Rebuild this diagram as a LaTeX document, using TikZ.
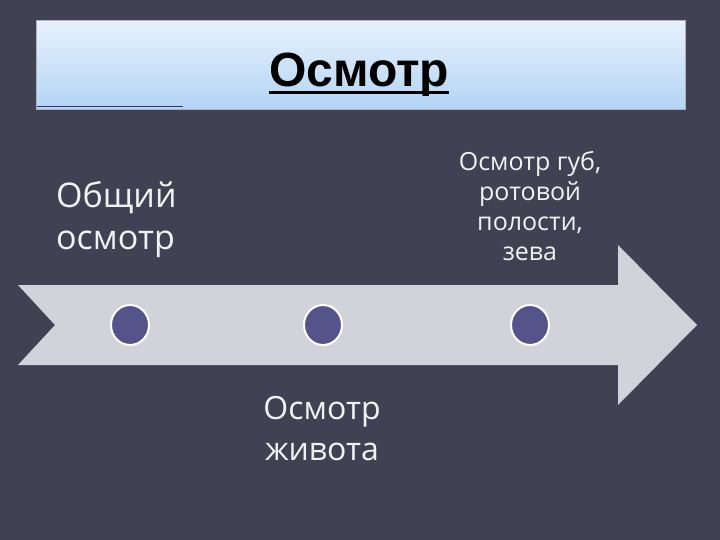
\documentclass[tikz,border=0pt]{standalone}
\usepackage{fontspec}
\setmainfont{Open Sans}
\newfontfamily\titlefont{Liberation Sans}
\usetikzlibrary{positioning,shapes.geometric}
\definecolor{bgdark}{RGB}{64,66,84}
\definecolor{boxtop}{RGB}{232,241,252}
\definecolor{boxbottom}{RGB}{178,212,245}
\definecolor{arrowgray}{RGB}{210,211,218}
\definecolor{dotblue}{RGB}{84,84,138}
\definecolor{txt}{RGB}{242,242,242}
\begin{document}
\begin{tikzpicture}[x=1pt,y=-1pt,
    step label/.style={text=txt, inner sep=0pt, font=\fontsize{32}{41}\selectfont},
    dot/.style={ellipse, minimum width=38pt, minimum height=40pt, fill=dotblue, draw=white, line width=2pt}]
    \useasboundingbox (0,0) rectangle (720,540);
    % background
    \fill[bgdark] (0,0) rectangle (720,540);
    % title box
    \shade[top color=boxtop, bottom color=boxbottom] (36,21) rectangle (685,110);
    \draw[gray!60, line width=1pt] (36,21) rectangle (685,110);
    \draw[blue!35!black!80, line width=1pt] (37,107) -- (183,107);
    \node[inner sep=0pt, anchor=base] (title) at (359,87) {\titlefont\bfseries\fontsize{48}{50}\selectfont Осмотр};
    \draw[line width=3pt] ([yshift=-6pt]title.base west) -- ([yshift=-6pt]title.base east);
    % timeline arrow
    \fill[arrowgray] (18,285) -- (618,285) -- (618,245) -- (697,325) -- (618,405)
        -- (618,365) -- (18,365) -- (55,325) -- cycle;
    % dots on the arrow
    \foreach \x/\i in {130/1,323/2,530/3}{%
        \node[dot] (d\i) at (\x,325) {};
    }
    % labels
    \node[step label, align=left, anchor=west, font=\fontsize{34}{42}\selectfont] (general) at (56,220) {Общий\\осмотр};
    \node[step label, align=center] (belly) at (322,429) {Осмотр\\живота};
    \node[step label, align=center, font=\fontsize{25}{30}\selectfont] (mouth) at (530,206)
        {Осмотр губ,\\ротовой\\полости,\\зева};
\end{tikzpicture}
\end{document}
